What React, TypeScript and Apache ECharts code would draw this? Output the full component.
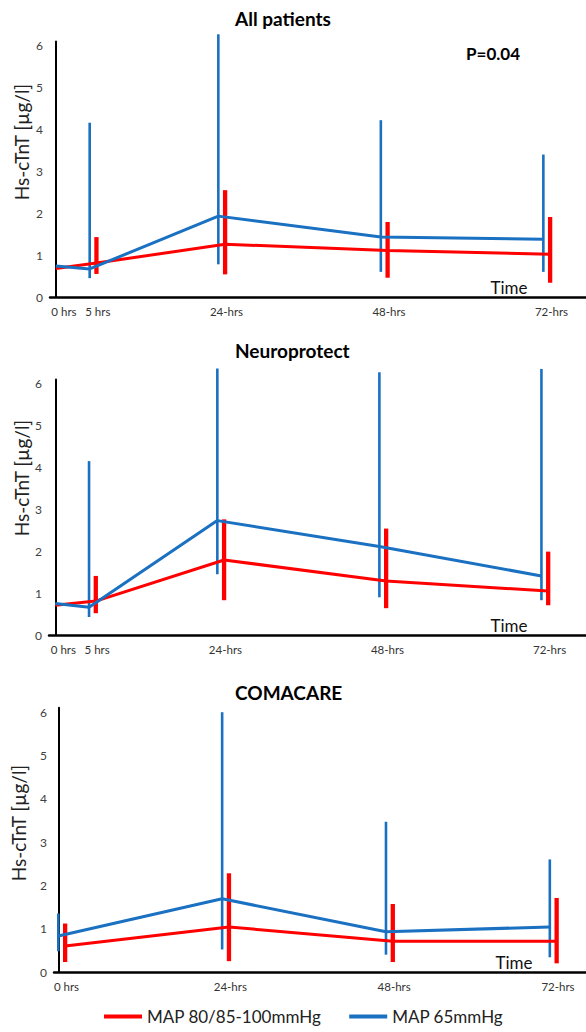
import React, { useEffect, useRef } from "react";
import * as echarts from "echarts";

// ---------- data ----------
const SERIES_RED = "MAP 80/85-100mmHg";
const SERIES_BLUE = "MAP 65mmHg";

const yTicks = [0, 1, 2, 3, 4, 5, 6];

// All patients / Neuroprotect time points
const hours5 = [0, 5, 24, 48, 72];
const labels5 = ["0 hrs", "5 hrs", "24-hrs", "48-hrs", "72-hrs"];
// COMACARE time points
const hours4 = [0, 24, 48, 72];
const labels4 = ["0 hrs", "24-hrs", "48-hrs", "72-hrs"];

// All patients
const apBlueMean = [0.74, 0.67, 1.93, 1.43, 1.38];
const apBlueLow = [null, 0.45, 0.78, 0.6, 0.6];
const apBlueHigh = [null, 4.16, 6.27, 4.22, 3.4];
const apRedMean = [0.68, 0.81, 1.26, 1.11, 1.02];
const apRedLow = [null, 0.55, 0.54, 0.46, 0.34];
const apRedHigh = [null, 1.43, 2.55, 1.79, 1.91];

// Neuroprotect
const npBlueMean = [0.75, 0.66, 2.73, 2.11, 1.41];
const npBlueLow = [null, 0.43, 1.45, 0.9, 0.83];
const npBlueHigh = [null, 4.15, 6.36, 6.27, 6.35];
const npRedMean = [0.71, 0.81, 1.79, 1.29, 1.05];
const npRedLow = [null, 0.52, 0.83, 0.64, 0.71];
const npRedHigh = [null, 1.41, 2.76, 2.54, 1.99];

// COMACARE
const ccBlueMean = [0.83, 1.69, 0.93, 1.04];
const ccBlueLow = [0.48, 0.52, 0.4, 0.34];
const ccBlueHigh = [1.35, 6.0, 3.47, 2.6];
const ccRedMean = [0.6, 1.04, 0.71, 0.71];
const ccRedLow = [0.23, 0.25, 0.23, 0.2];
const ccRedHigh = [1.12, 2.28, 1.57, 1.71];

// ---------- styles ----------
const BLUE = "#1a70c1";
const RED = "#ff0000";
const FONT = "Lato, 'Open Sans', sans-serif";
const RED_SHIFT = 1; // red group drawn ~1 h to the right of blue
const LABEL_SHIFT = 1.2;

type Panel = {
  title: string;
  titleY: number;
  hours: number[];
  labels: string[];
  blueMean: number[];
  blueLow: (number | null)[];
  blueHigh: (number | null)[];
  redMean: number[];
  redLow: (number | null)[];
  redHigh: (number | null)[];
  grid: { left: number; top: number; width: number; height: number };
  xMin: number;
  xMax: number;
  timeXY: [number, number];
  nameXY: [number, number];
};

const YMAX = 6.1;

const panels: Panel[] = [
  {
    title: "All patients",
    titleY: 18,
    hours: hours5,
    labels: labels5,
    blueMean: apBlueMean,
    blueLow: apBlueLow,
    blueHigh: apBlueHigh,
    redMean: apRedMean,
    redLow: apRedLow,
    redHigh: apRedHigh,
    grid: { left: 50, top: 297 - YMAX * 41.9, width: 536, height: YMAX * 41.9 },
    xMin: -0.86,
    xMax: 78.3,
    timeXY: [509, 287],
    nameXY: [21, 142],
  },
  {
    title: "Neuroprotect",
    titleY: 350,
    hours: hours5,
    labels: labels5,
    blueMean: npBlueMean,
    blueLow: npBlueLow,
    blueHigh: npBlueHigh,
    redMean: npRedMean,
    redLow: npRedLow,
    redHigh: npRedHigh,
    grid: { left: 49, top: 635 - YMAX * 41.9, width: 537, height: YMAX * 41.9 },
    xMin: -0.93,
    xMax: 78.6,
    timeXY: [509, 625],
    nameXY: [21, 478],
  },
  {
    title: "COMACARE",
    titleY: 692,
    hours: hours4,
    labels: labels4,
    blueMean: ccBlueMean,
    blueLow: ccBlueLow,
    blueHigh: ccBlueHigh,
    redMean: ccRedMean,
    redLow: ccRedLow,
    redHigh: ccRedHigh,
    grid: { left: 54, top: 972 - YMAX * 43.3, width: 532, height: YMAX * 43.3 },
    xMin: -0.63,
    xMax: 77.3,
    timeXY: [514, 962],
    nameXY: [18, 823],
  },
];

function errorBarSeries(
  idx: number,
  xs: number[],
  lows: (number | null)[],
  highs: (number | null)[],
  color: string,
  width: number
) {
  const data: number[][] = [];
  xs.forEach((x, i) => {
    const lo = lows[i];
    const hi = highs[i];
    if (lo != null && hi != null) data.push([x, lo, hi]);
  });
  return {
    type: "custom",
    xAxisIndex: idx,
    yAxisIndex: idx,
    clip: false,
    silent: true,
    encode: { x: 0, y: [1, 2] },
    data,
    renderItem: (_params: any, api: any) => {
      const x = api.value(0);
      const p1 = api.coord([x, api.value(1)]);
      const p2 = api.coord([x, api.value(2)]);
      return {
        type: "line",
        shape: { x1: p1[0], y1: p1[1], x2: p2[0], y2: p2[1] },
        style: { stroke: color, lineWidth: width },
      };
    },
  };
}

function txt(
  x: number,
  y: number,
  text: string,
  size: number,
  weight: string,
  fill: string,
  align: string,
  rotation = 0
) {
  return {
    type: "text",
    x,
    y,
    rotation,
    style: {
      text,
      fontSize: size,
      fontWeight: weight,
      fontFamily: FONT,
      fill,
      textAlign: align,
      textVerticalAlign: "middle",
    },
  };
}

function buildOption() {
  const grids: any[] = [];
  const xAxes: any[] = [];
  const yAxes: any[] = [];
  const series: any[] = [];
  const graphics: any[] = [];

  panels.forEach((p, idx) => {
    grids.push({ ...p.grid, containLabel: false });
    const labelPos = p.hours.map((h) => h + LABEL_SHIFT);
    xAxes.push({
      type: "value",
      gridIndex: idx,
      min: p.xMin,
      max: p.xMax,
      splitLine: { show: false },
      axisTick: { show: false },
      axisLine: { show: true, onZero: false, lineStyle: { color: "#000", width: 2.5 } },
      axisLabel: {
        customValues: labelPos,
        margin: 8,
        fontSize: 11.5,
        fontFamily: FONT,
        color: "#333",
        formatter: (v: number) => {
          let best = 0;
          labelPos.forEach((lp, i) => {
            if (Math.abs(lp - v) < Math.abs(labelPos[best] - v)) best = i;
          });
          return p.labels[best];
        },
      },
    });
    yAxes.push({
      type: "value",
      gridIndex: idx,
      min: 0,
      max: YMAX,
      interval: 1,
      splitLine: { show: false },
      axisTick: { show: false },
      axisLine: { show: true, lineStyle: { color: "#000", width: 2 } },
      axisLabel: {
        customValues: yTicks,
        margin: 7,
        fontSize: 12,
        fontFamily: FONT,
        color: "#404040",
      },
    });

    const redX = p.hours.map((h, i) => h + (p.redLow[i] == null ? 0 : RED_SHIFT));

    series.push({
      name: SERIES_RED,
      type: "line",
      xAxisIndex: idx,
      yAxisIndex: idx,
      showSymbol: false,
      symbol: "none",
      clip: false,
      data: redX.map((x, i) => [x, p.redMean[i]]),
      lineStyle: { color: RED, width: 3 },
      itemStyle: { color: RED },
    });
    series.push({
      name: SERIES_BLUE,
      type: "line",
      xAxisIndex: idx,
      yAxisIndex: idx,
      showSymbol: false,
      symbol: "none",
      clip: false,
      data: p.hours.map((x, i) => [x, p.blueMean[i]]),
      lineStyle: { color: BLUE, width: 3 },
      itemStyle: { color: BLUE },
    });
    series.push(errorBarSeries(idx, p.hours, p.blueLow, p.blueHigh, BLUE, 2.6));
    series.push(errorBarSeries(idx, redX, p.redLow, p.redHigh, RED, 4.3));

    graphics.push(txt(235, p.titleY, p.title, 19, "bold", "#000", "left"));
    graphics.push(txt(p.timeXY[0], p.timeXY[1], "Time", 17, "normal", "#111", "center"));
    graphics.push(
      txt(p.nameXY[0], p.nameXY[1], "Hs-cTnT [µg/l]", 19, "normal", "#222", "center", Math.PI / 2)
    );
  });

  graphics.push(txt(493, 53, "P=0.04", 17, "bold", "#000", "center"));

  return {
    animation: false,
    backgroundColor: "#fff",
    textStyle: { fontFamily: FONT },
    grid: grids,
    xAxis: xAxes,
    yAxis: yAxes,
    series,
    graphic: graphics,
    legend: {
      left: 104,
      top: 1008,
      padding: 0,
      itemWidth: 38,
      itemHeight: 4,
      itemGap: 28,
      selectedMode: false,
      textStyle: { fontSize: 17, fontFamily: FONT, color: "#222" },
      data: [
        { name: SERIES_RED, icon: "rect" },
        { name: SERIES_BLUE, icon: "rect" },
      ],
    },
  };
}

export default function App() {
  const ref = useRef<HTMLDivElement>(null);
  useEffect(() => {
    if (!ref.current) return;
    const chart = echarts.init(ref.current, null, { renderer: "svg" });
    chart.setOption(buildOption() as any);
    return () => chart.dispose();
  }, []);
  return (
    <div
      ref={ref}
      style={{ position: "absolute", left: 0, top: 0, width: 586, height: 1032, background: "#fff" }}
    />
  );
}
